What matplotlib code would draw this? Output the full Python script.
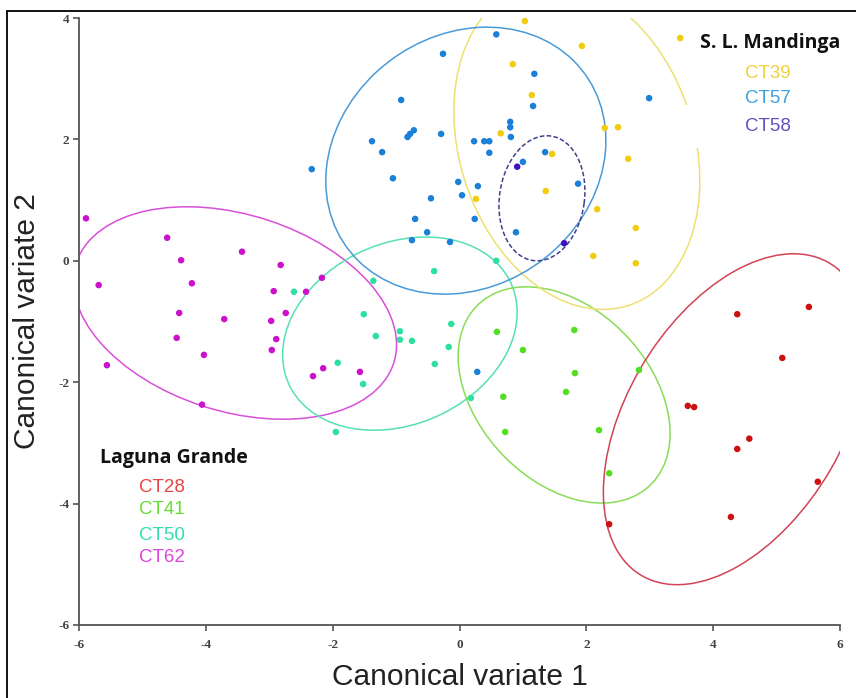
import matplotlib.pyplot as plt
from matplotlib.patches import Ellipse, Rectangle

plt.rcParams['axes.unicode_minus'] = False

# Canonical variate scores (CV1, CV2) for each population
ct28_x = [4.38, 5.51, 5.09, 3.60, 3.70, 4.57, 4.38, 5.65, 4.28, 2.36]
ct28_y = [-0.88, -0.76, -1.60, -2.39, -2.41, -2.93, -3.10, -3.64, -4.22, -4.34]

ct41_x = [0.59, 1.00, 0.69, 0.72, 1.81, 1.82, 1.68, 2.20, 2.83, 2.36]
ct41_y = [-1.17, -1.47, -2.24, -2.82, -1.14, -1.85, -2.16, -2.79, -1.80, -3.50]

ct50_x = [-2.61, -1.36, -1.51, -1.32, -0.94, -0.94, -0.75, -0.40, -0.13, -0.17,
          -0.39, -1.92, -1.52, -1.95, 0.18, 0.58]
ct50_y = [-0.51, -0.33, -0.88, -1.24, -1.16, -1.30, -1.32, -0.17, -1.04, -1.42,
          -1.70, -1.68, -2.03, -2.82, -2.26, 0.00]

ct62_x = [-5.89, -4.61, -4.39, -5.69, -4.22, -3.43, -2.82, -2.93, -4.42, -3.71,
          -2.74, -2.97, -4.46, -2.89, -4.03, -2.96, -5.56, -4.06, -2.17, -2.42,
          -2.15, -2.31, -1.57]
ct62_y = [0.70, 0.38, 0.01, -0.40, -0.37, 0.15, -0.07, -0.50, -0.86, -0.96,
          -0.86, -0.99, -1.27, -1.29, -1.55, -1.47, -1.72, -2.37, -0.28, -0.51,
          -1.77, -1.90, -1.83]

ct39_x = [1.03, 0.84, 1.14, 0.65, 1.46, 1.36, 0.26, 3.48, 1.93, 2.29, 2.50, 2.66,
          2.17, 2.78, 2.11, 2.78]
ct39_y = [3.95, 3.24, 2.73, 2.10, 1.76, 1.15, 1.02, 3.67, 3.54, 2.19, 2.20, 1.68,
          0.85, 0.54, 0.08, -0.04]

ct57_x = [0.58, -0.26, 1.18, -0.92, 1.16, 0.80, 0.80, 0.81, -0.72, -0.78, -0.82,
          -0.29, -1.38, 0.23, 0.39, 0.47, -1.22, 0.47, 1.35, 1.00, -1.05, -0.02,
          0.29, -0.45, 0.04, -2.33, -0.70, 0.24, -0.51, -0.75, -0.15, 0.89, 1.87,
          2.99, 0.28]
ct57_y = [3.73, 3.41, 3.08, 2.65, 2.55, 2.29, 2.20, 2.04, 2.15, 2.09, 2.04,
          2.09, 1.97, 1.97, 1.97, 1.97, 1.79, 1.78, 1.79, 1.63, 1.36, 1.30,
          1.23, 1.03, 1.08, 1.51, 0.69, 0.69, 0.47, 0.34, 0.31, 0.47, 1.27,
          2.68, -1.83]

ct58_x = [0.91, 1.65]
ct58_y = [1.55, 0.29]

# group ellipses: centre x, centre y, width, height, angle (deg)
ct28_ell = (4.35, -2.61, 5.94, 3.43, 60.9)
ct41_ell = (1.65, -2.21, 4.03, 2.76, -50.1)
ct50_ell = (-0.94, -1.20, 3.88, 2.96, 27.8)
ct62_ell = (-3.54, -0.86, 5.27, 3.23, -18.9)
ct39_ell = (1.85, 1.89, 5.50, 3.71, -73.8)
ct57_ell = (0.10, 1.65, 4.73, 4.06, 44.2)
ct58_ell = (1.30, 1.03, 2.07, 1.34, 82.5)

groups = [
    # name, x, y, ellipse, point colour, line colour, text colour, dashed
    ('CT62', ct62_x, ct62_y, ct62_ell, '#cc11cc', '#d94fd9', '#dd44dd', False),
    ('CT50', ct50_x, ct50_y, ct50_ell, '#2ee0a0', '#55e0b5', '#33ddb0', False),
    ('CT41', ct41_x, ct41_y, ct41_ell, '#55dd22', '#88dd55', '#66dd33', False),
    ('CT28', ct28_x, ct28_y, ct28_ell, '#cc1111', '#d04455', '#e84444', False),
    ('CT39', ct39_x, ct39_y, ct39_ell, '#f2cc10', '#eee070', '#f0d040', False),
    ('CT57', ct57_x, ct57_y, ct57_ell, '#1a80d8', '#4a9ad8', '#3fa0e0', False),
    ('CT58', ct58_x, ct58_y, ct58_ell, '#4010c0', '#404090', '#6050c0', True),
]
colour = {g[0]: g[6] for g in groups}

fig = plt.figure(figsize=(8.56, 6.98), dpi=100)
ax = fig.add_axes([0.0923, 0.1046, 0.889, 0.8696])

for name, xs, ys, (cx, cy, w, h, ang), pc, lc, tc, dashed in groups:
    ax.add_patch(Ellipse((cx, cy), w, h, angle=ang, fill=False, ec=lc, lw=1.1,
                         ls=(0, (3, 1.5)) if dashed else '-', zorder=2))
    ax.scatter(xs, ys, s=22, color=pc, edgecolors='none', zorder=3)

# white box behind the upper group labels
ax.add_patch(Rectangle((3.55, 1.86), 2.45, 0.71, fc='white', ec='none', zorder=4))

bold = dict(family='Open Sans', fontweight='bold', fontsize=14, color='#111111', zorder=5)
lab = dict(family='Liberation Sans', fontsize=13.5, zorder=5, va='center')

ax.text(3.79, 3.59, 'S. L. Mandinga', va='center', **bold)
for name, yy in zip(['CT39', 'CT57', 'CT58'], [3.09, 2.67, 2.22]):
    ax.text(4.50, yy, name, color=colour[name], **lab)

ax.text(-5.67, -3.25, 'Laguna Grande', va='center', **bold)
for name, yy in zip(['CT28', 'CT41', 'CT50', 'CT62'], [-3.74, -4.10, -4.52, -4.88]):
    ax.text(-5.06, yy, name, color=colour[name], **lab)

ax.set_xlim(-6, 6)
ax.set_ylim(-6, 4)
ax.set_xticks(range(-6, 7, 2))
ax.set_yticks(range(-6, 5, 2))
for s in ['top', 'right']:
    ax.spines[s].set_visible(False)
for s in ['left', 'bottom']:
    ax.spines[s].set_color('#555555')
    ax.spines[s].set_linewidth(1.3)
ax.tick_params(axis='both', direction='out', length=4, width=1.2, color='#555555',
               labelsize=9.5, labelcolor='#444444')
ax.tick_params(axis='x', pad=6)
ax.tick_params(axis='y', pad=3)
for t in ax.get_xticklabels() + ax.get_yticklabels():
    t.set_family('Liberation Serif')
    t.set_fontweight('bold')

ax.set_xlabel('Canonical variate 1', family='Liberation Sans', fontsize=21.5,
              color='#222222', labelpad=9)
ax.set_ylabel('Canonical variate 2', family='Liberation Sans', fontsize=21.5,
              color='#222222', labelpad=12)

# thin black frame round the figure
fig.add_artist(Rectangle((7 / 856, -0.05), 1.2, 1 - 11 / 698 + 0.05,
                         transform=fig.transFigure, fill=False, ec='black', lw=1.3))

fig.savefig('out.png', dpi=100)
